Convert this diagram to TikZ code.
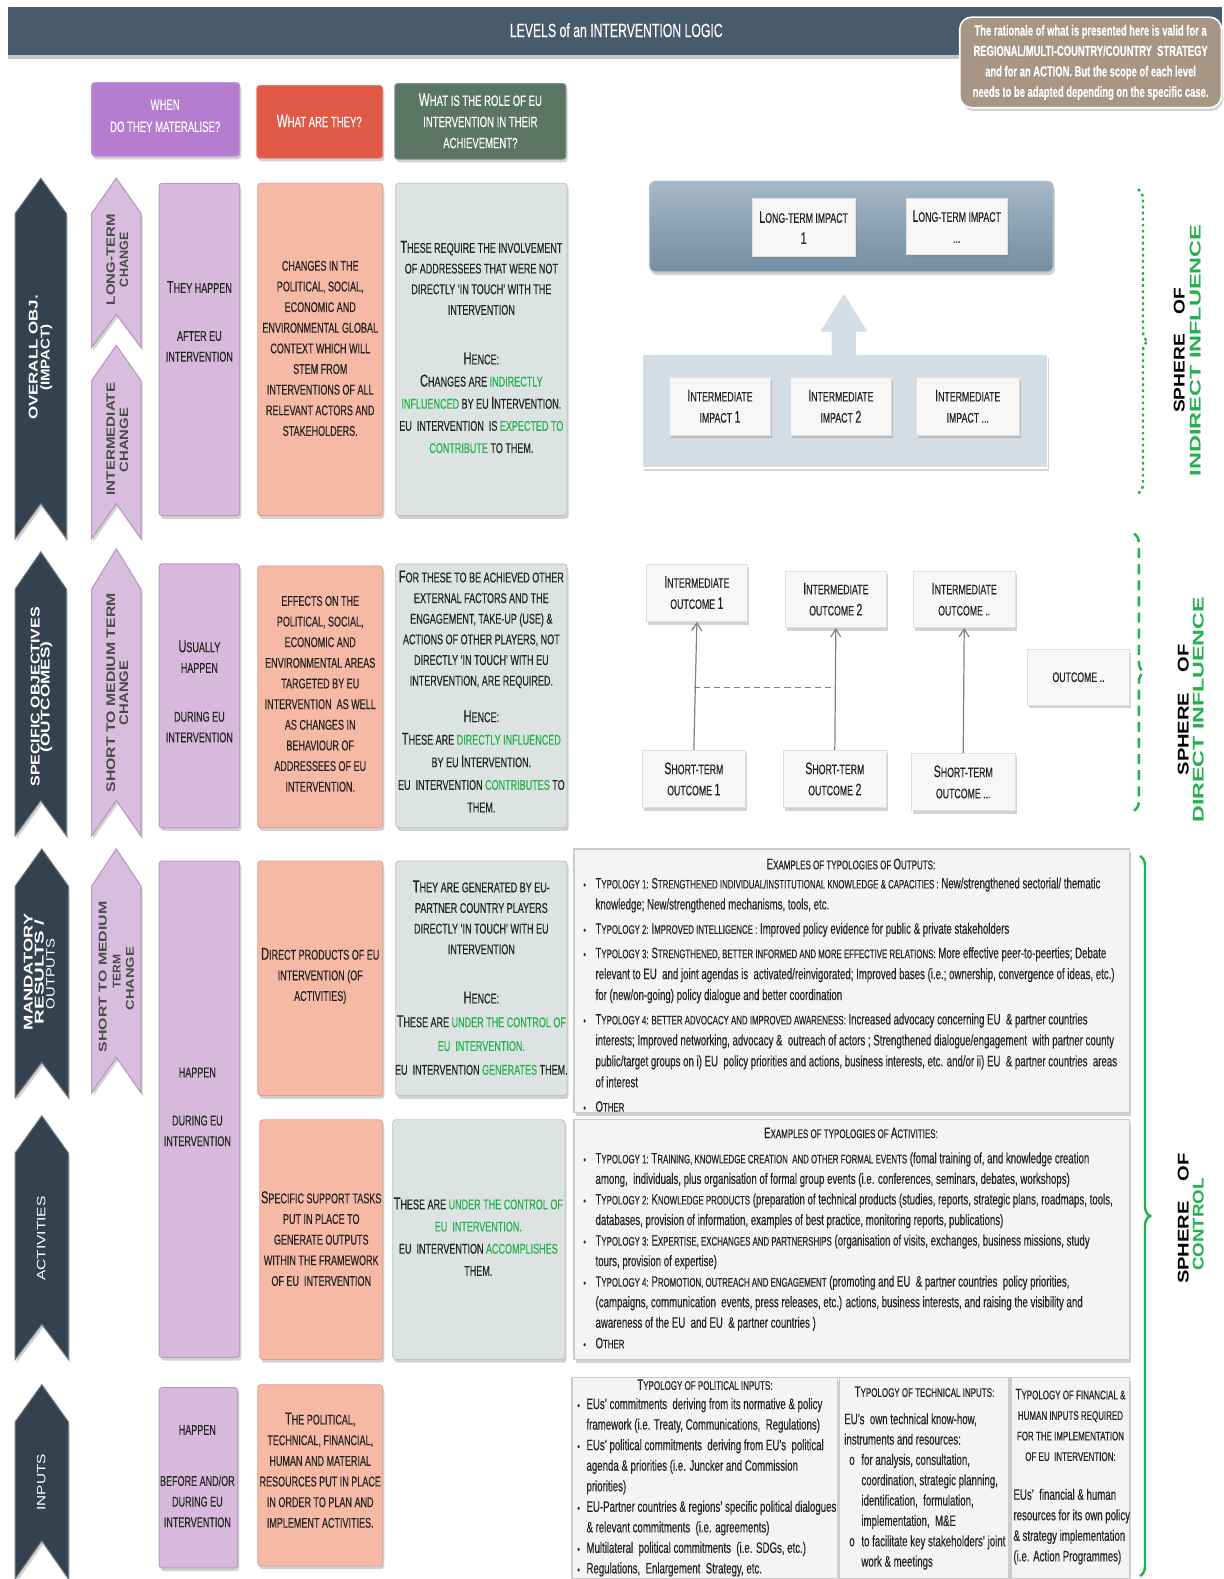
\documentclass[tikz,border=0pt]{standalone}
\usepackage{fontspec}
\usepackage{graphicx}
\setmainfont{Liberation Sans}[FakeStretch=0.64, FakeBold=0.25]
\newfontfamily\labfont{Liberation Sans}
\usetikzlibrary{shadows,arrows.meta,decorations.pathreplacing}

\definecolor{barc}{HTML}{475B6B}
\definecolor{notec}{HTML}{A69683}
\definecolor{hpur}{HTML}{B57CCF}
\definecolor{hred}{HTML}{E05946}
\definecolor{hgrn}{HTML}{5B7565}
\definecolor{chev}{HTML}{33424E}
\definecolor{lil}{HTML}{D8BDDE}
\definecolor{lile}{HTML}{B99CC1}
\definecolor{lilbox}{HTML}{D7B9DC}
\definecolor{salm}{HTML}{F6B9A5}
\definecolor{salmd}{HTML}{DDA08C}
\definecolor{gbox}{HTML}{DCE3E2}
\definecolor{gboxd}{HTML}{B9C2C1}
\definecolor{grn}{HTML}{22B14C}
\definecolor{steel}{HTML}{7E9AAF}
\definecolor{lcont}{HTML}{D3DDE3}
\definecolor{txtc}{HTML}{222222}
\definecolor{panel}{HTML}{F4F4F4}
\definecolor{wfill}{HTML}{F7F7F7}
\definecolor{conc}{HTML}{8C7E79}
\definecolor{lbltxt}{HTML}{4A4A4A}

\newcommand\Ic[1]{\scalebox{1.22}{#1}}
\newcommand\Sm[1]{{\fontsize{6.1}{10.3}\selectfont #1}}
\newcommand\G[1]{\textcolor{grn}{#1}}
\newcommand\lbl[3]{\resizebox{#1pt}{\height}{\fontsize{#2}{#2}\selectfont\labfont\bfseries #3}}
\newcommand\lbln[3]{\resizebox{#1pt}{\height}{\fontsize{#2}{#2}\selectfont\labfont #3}}
\newcommand\bul{\makebox[7.5pt][l]{\hspace{1.5pt}\scalebox{0.7}{\textbullet}}}
\newcommand\cont{\hspace*{7.5pt}}
\newcommand\bulp{\makebox[4.5pt][l]{\scalebox{0.7}{\textbullet}}}
\newcommand\contp{\hspace*{4.5pt}}
\newcommand\bulo{\makebox[8.5pt][l]{\hspace{2.5pt}o}}
\newcommand\conto{\hspace*{8.5pt}}
\newcommand\bx[7]{\node[#6, minimum width={(#4-(#2))*0.5pt}, minimum height={(#5-(#3))*0.5pt}] (#1) at ({(#2+#4)/2},{(#3+#5)/2}) {#7};}
\newcommand\chevr[7]{\draw[#7] (#1,#4) -- ({(#1+#2)/2},#3) -- (#2,#4) -- (#2,#5) -- ({(#1+#2)/2},#6) -- (#1,#5) -- cycle;}

\tikzset{
  shd/.style={drop shadow={opacity=0.35, shadow xshift=0.8pt, shadow yshift=-1.6pt}},
  colbox/.style={inner sep=0pt, rounded corners=1.5pt, shd},
  hdr/.style={colbox, line width=0.5pt},
  lilbx/.style={colbox, fill=lilbox, draw=lile, line width=0.5pt},
  salbx/.style={colbox, fill=salm, draw=salmd, line width=0.4pt},
  grbx/.style={colbox, fill=gbox, draw=gboxd, line width=0.4pt},
  wbx/.style={inner sep=0pt, fill=wfill, draw=gray!25, line width=0.4pt, shd, align=center, text=txtc, font=\fontsize{6.8}{10.5}\selectfont},
  pnl/.style={inner sep=0pt, fill=panel, draw=gray!40, line width=0.6pt, shd},
  txt/.style={align=center, inner sep=0pt, text=txtc, font=\fontsize{7}{10.25}\selectfont},
  htxt/.style={align=center, inner sep=0pt, text=white, font=\fontsize{7.4}{10.5}\selectfont},
  ptitle/.style={align=center, inner sep=0pt, text=txtc, font=\fontsize{6.2}{10.2}\selectfont},
  plist/.style={align=left, inner sep=0pt, text=txtc, anchor=north west},
  chevst/.style={fill=chev, draw=chev!70!white, line width=0.5pt, shd},
  lilst/.style={fill=lil, draw=lile, line width=0.6pt, shd},
  rlab/.style={rotate=90, inner sep=0pt},
  conn/.style={draw=conc, line width=0.6pt, -{Straight Barb[length=4pt,width=5pt]}},
  brc/.style={decorate, decoration={brace, amplitude=5pt}, draw=grn, line width=1.2pt},
}

\begin{document}
\begin{tikzpicture}[x=0.5pt,y=-0.5pt]
\fill[white] (0,0) rectangle (1215,1568);
\useasboundingbox (0,0) rectangle (1215,1568);

% header
\bx{bar}{8}{7}{1213}{55}{inner sep=0pt, fill=barc, drop shadow={opacity=0.45, shadow xshift=0pt, shadow yshift=-2pt}}{}
\node[text=white, font=\fontsize{9.5}{11}\selectfont] (title) at (612,30) {LEVELS of an INTERVENTION LOGIC};
\bx{note}{953}{17}{1213}{107}{inner sep=0pt, fill=notec, draw=white, line width=0.8pt, rounded corners=6pt, shd}{}
\node[text=white, align=center, inner sep=0pt, font=\fontsize{7.3}{10.15}\selectfont\bfseries] (notet) at (1083,62) {The rationale of what is presented here is valid for a\\REGIONAL/MULTI-COUNTRY/COUNTRY\ \ STRATEGY\\and for an ACTION. But the scope of each level\\needs to be adapted depending on the specific case.};

\bx{hw}{91}{82}{238}{155}{hdr, fill=hpur, draw=hpur!80!white}{}
\node[htxt, font=\fontsize{7.4}{11}\selectfont] (hwt) at (164,115) {WHEN\\DO THEY MATERALISE?};
\bx{hr}{255}{85}{380}{157}{hdr, fill=hred, draw=hred!80!white}{}
\node[htxt] (hrt) at (317,120) {\Ic{W}HAT ARE THEY?};
\bx{hg}{392}{83}{562}{158}{hdr, fill=hgrn, draw=hgrn!80!white}{}
\node[htxt] (hgt) at (477,120) {\Ic{W}HAT IS THE ROLE OF EU\\INTERVENTION IN THEIR\\ACHIEVEMENT?};

% chevrons
\chevr{15}{66}{177}{212}{535}{500}{chevst}
\chevr{91}{140}{177}{212}{345}{312}{lilst}
\chevr{91}{140}{343}{378}{535}{500}{lilst}
\chevr{15}{66}{548}{585}{830}{795}{chevst}
\chevr{91}{140}{545}{585}{830}{795}{lilst}
\chevr{15}{68}{843}{880}{1090}{1055}{chevst}
\chevr{91}{140}{843}{880}{1085}{1050}{lilst}
\chevr{15}{68}{1108}{1145}{1350}{1315}{chevst}
\chevr{15}{68}{1375}{1412}{1568}{1530}{chevst}

\node[rlab, text=white] (c1a) at (33,355) {\lbl{62}{6.3}{OVERALL OBJ.}};
\node[rlab, text=white] (c1b) at (46,355) {\lbl{33}{6.3}{(IMPACT)}};
\node[rlab, text=white] (c2a) at (35,692) {\lbl{89}{6.3}{SPECIFIC OBJECTIVES}};
\node[rlab, text=white] (c2b) at (46,692) {\lbl{55}{6.3}{(OUTCOMES)}};
\node[rlab, text=white] (c3a) at (28,965) {\lbl{58}{6.3}{MANDATORY}};
\node[rlab, text=white] (c3b) at (39,965) {\lbl{52}{6.3}{RESULTS /}};
\node[rlab, text=white] (c3c) at (50,967) {\lbln{35}{6}{OUTPUTS}};
\node[rlab, text=white] (c4a) at (41,1230) {\lbln{42}{6}{ACTIVITIES}};
\node[rlab, text=white] (c5a) at (41,1472) {\lbln{28}{6}{INPUTS}};

\node[rlab, text=lbltxt] (l1a) at (110,258) {\lbl{45}{6}{LONG-TERM}};
\node[rlab, text=lbltxt] (l1b) at (123,258) {\lbl{27}{6}{CHANGE}};
\node[rlab, text=lbltxt] (l2a) at (110,436) {\lbl{56}{6}{INTERMEDIATE}};
\node[rlab, text=lbltxt] (l2b) at (123,437) {\lbl{32}{6}{CHANGE}};
\node[rlab, text=lbltxt] (l3a) at (110,688) {\lbl{99}{6.2}{SHORT TO MEDIUM TERM}};
\node[rlab, text=lbltxt] (l3b) at (123,688) {\lbl{32}{6.2}{CHANGE}};
\node[rlab, text=lbltxt] (l4a) at (102,970) {\lbl{75}{5.6}{SHORT TO MEDIUM}};
\node[rlab, text=lbltxt] (l4b) at (116,965) {\lbl{17}{5.6}{TERM}};
\node[rlab, text=lbltxt] (l4c) at (129,972) {\lbl{31.5}{5.6}{CHANGE}};

% row 1 boxes
\bx{w1}{158}{182}{238}{512}{lilbx}{}
\node[txt] (w1a) at (198,285) {\Ic{T}HEY HAPPEN};
\node[txt] (w1b) at (198,344) {AFTER EU\\INTERVENTION};
\bx{s1}{256}{182}{380}{512}{salbx}{}
\node[txt] (s1t) at (318,346) {CHANGES IN THE\\POLITICAL, SOCIAL,\\ECONOMIC AND\\ENVIRONMENTAL GLOBAL\\CONTEXT WHICH WILL\\STEM FROM\\INTERVENTIONS OF ALL\\RELEVANT ACTORS AND\\STAKEHOLDERS.};
\bx{g1}{393}{182}{563}{512}{grbx}{}
\node[txt] (g1a) at (478,276) {\Ic{T}HESE REQUIRE THE INVOLVEMENT\\OF ADDRESSEES THAT WERE NOT\\DIRECTLY ‘IN TOUCH’ WITH THE\\INTERVENTION};
\node[txt, font=\fontsize{7}{11}\selectfont] (g1b) at (478,400) {\Ic{H}ENCE:\\\Ic{C}HANGES ARE \G{INDIRECTLY}\\\G{INFLUENCED} BY EU \Ic{I}NTERVENTION.\\EU\ \ INTERVENTION\ \ IS \G{EXPECTED TO}\\\G{CONTRIBUTE} TO THEM.};

% row 1 right
\bx{ltbox}{645}{180}{1046}{270}{inner sep=0pt, rounded corners=3pt, top color=steel!70!white, bottom color=steel!92!black, draw=steel!60!white, line width=0.6pt, shd}{}
\bx{lt1}{747}{197}{849}{255}{wbx}{\Ic{L}ONG-TERM IMPACT\\\Ic{1}}
\bx{lt2}{900}{197}{1000}{253}{wbx}{\Ic{L}ONG-TERM IMPACT\\...}
\bx{icont}{638}{352}{1040}{465}{inner sep=0pt, fill=lcont, draw=white, line width=0.8pt, shd}{}
\draw[fill=lcont, draw=white, line width=0.8pt] (825,353) -- (825,330) -- (813,330) -- (838,290) -- (863,330) -- (851,330) -- (851,353);
\bx{ii1}{665}{375}{765}{432}{wbx}{\Ic{I}NTERMEDIATE\\IMPACT \Ic{1}}
\bx{ii2}{785}{375}{885}{432}{wbx}{\Ic{I}NTERMEDIATE\\IMPACT \Ic{2}}
\bx{ii3}{910}{375}{1012}{432}{wbx}{\Ic{I}NTERMEDIATE\\IMPACT ...}

\draw[brc, dash pattern=on 1.3pt off 1.7pt] (1130,188) -- (1130,490);
\node[rlab] (sp1a) at (1171,348) {\lbl{62}{7.7}{SPHERE\quad OF}};
\node[rlab, text=grn] (sp1b) at (1187,348) {\lbl{125}{7.7}{INDIRECT INFLUENCE}};

% row 2 boxes
\bx{w2}{158}{560}{238}{822}{lilbx}{}
\node[txt] (w2a) at (198,652) {\Ic{U}SUALLY\\HAPPEN};
\node[txt] (w2b) at (198,722) {DURING EU\\INTERVENTION};
\bx{s2}{256}{562}{380}{822}{salbx}{}
\node[txt] (s2t) at (318,689) {EFFECTS ON THE\\POLITICAL, SOCIAL,\\ECONOMIC AND\\ENVIRONMENTAL AREAS\\TARGETED BY EU\\INTERVENTION\ \ AS WELL\\AS CHANGES IN\\BEHAVIOUR OF\\ADDRESSEES OF EU\\INTERVENTION.};
\bx{g2}{393}{560}{563}{822}{grbx}{}
\node[txt] (g2a) at (478,625) {\Ic{F}OR THESE TO BE ACHIEVED OTHER\\EXTERNAL FACTORS AND THE\\ENGAGEMENT, TAKE-UP (USE) \&\\ACTIONS OF OTHER PLAYERS, NOT\\DIRECTLY ‘IN TOUCH’ WITH EU\\INTERVENTION, ARE REQUIRED.};
\node[txt, font=\fontsize{7}{11.2}\selectfont] (g2b) at (478,756) {\Ic{H}ENCE:\\\Ic{T}HESE ARE \G{DIRECTLY INFLUENCED}\\BY EU \Ic{I}NTERVENTION.\\EU\ \ INTERVENTION \G{CONTRIBUTES} TO\\THEM.};

% row 2 right
\bx{io1}{642}{560}{742}{617}{wbx}{\Ic{I}NTERMEDIATE\\OUTCOME \Ic{1}}
\bx{io2}{780}{567}{880}{623}{wbx}{\Ic{I}NTERMEDIATE\\OUTCOME \Ic{2}}
\bx{io3}{907}{567}{1008}{623}{wbx}{\Ic{I}NTERMEDIATE\\OUTCOME ..}
\bx{oc}{1020}{645}{1122}{700}{wbx}{OUTCOME ..}
\bx{st1}{638}{745}{740}{802}{wbx}{\Ic{S}HORT-TERM\\OUTCOME \Ic{1}}
\bx{st2}{778}{745}{880}{802}{wbx}{\Ic{S}HORT-TERM\\OUTCOME \Ic{2}}
\bx{st3}{905}{748}{1008}{805}{wbx}{\Ic{S}HORT-TERM\\OUTCOME ...}
\draw[conn] (st1.north) -- (io1.south);
\draw[conn] (st2.north) -- (io2.south);
\draw[conn] (st3.north) -- (io3.south);
\coordinate (d1) at (689,683);
\coordinate (d2) at (830,683);
\draw[draw=conc, line width=0.6pt, dash pattern=on 3pt off 2pt] (d1) -- (d2);

\draw[brc, dash pattern=on 5pt off 3pt] (1126,530) -- (1126,805);
\node[rlab] (sp2a) at (1175,705) {\lbl{65}{7.7}{SPHERE\quad OF}};
\node[rlab, text=grn] (sp2b) at (1190,705) {\lbl{112}{7.7}{DIRECT INFLUENCE}};

% row 3
\bx{w3}{158}{855}{238}{1348}{lilbx}{}
\node[txt] (w3a) at (196,1065) {HAPPEN};
\node[txt] (w3b) at (196,1123) {DURING EU\\INTERVENTION};
\bx{s3}{256}{855}{380}{1088}{salbx}{}
\node[txt] (s3t) at (318,969) {\Ic{D}IRECT PRODUCTS OF EU\\INTERVENTION (OF\\ACTIVITIES)};
\bx{g3}{393}{855}{563}{1088}{grbx}{}
\node[txt] (g3a) at (478,911) {\Ic{T}HEY ARE GENERATED BY EU-\\PARTNER COUNTRY PLAYERS\\DIRECTLY ‘IN TOUCH’ WITH EU\\INTERVENTION};
\node[txt, font=\fontsize{7}{11.8}\selectfont] (g3b) at (478,1026) {\Ic{H}ENCE:\\\Ic{T}HESE ARE \G{UNDER THE CONTROL OF}\\\G{EU\ \ INTERVENTION.}\\EU\ \ INTERVENTION \G{GENERATES} THEM.};

\bx{pout}{570}{843}{1122}{1105}{pnl}{}
\node[ptitle] (pout-t) at (845,858) {\Ic{E}XAMPLES OF TYPOLOGIES OF \Ic{O}UTPUTS:};
\node[plist, font=\fontsize{7.5}{10.4}\selectfont] (pout-l) at (576,871) {%
\bul\Sm{\Ic{T}YPOLOGY 1: \Ic{S}TRENGTHENED INDIVIDUAL/INSTITUTIONAL KNOWLEDGE \& CAPACITIES :} New/strengthened sectorial/ thematic\\
\cont knowledge; New/strengthened mechanisms, tools, etc.\\[1.7pt]
\bul\Sm{\Ic{T}YPOLOGY 2: \Ic{I}MPROVED INTELLIGENCE :} Improved policy evidence for public \& private stakeholders\\[1.7pt]
\bul\Sm{\Ic{T}YPOLOGY 3: \Ic{S}TRENGTHENED, BETTER INFORMED AND MORE EFFECTIVE RELATIONS:} More effective peer-to-peerties; Debate\\
\cont relevant to EU\ \ and joint agendas is\ \ activated/reinvigorated; Improved bases (i.e.; ownership, convergence of ideas, etc.)\\
\cont for (new/on-going) policy dialogue and better coordination\\[1.7pt]
\bul\Sm{\Ic{T}YPOLOGY 4: BETTER ADVOCACY AND IMPROVED AWARENESS:} Increased advocacy concerning EU\ \ \& partner countries\\
\cont interests; Improved networking, advocacy \&\ \ outreach of actors ; Strengthened dialogue/engagement\ \ with partner county\\
\cont public/target groups on i) EU\ \ policy priorities and actions, business interests, etc. and/or ii) EU\ \ \& partner countries\ \ areas\\
\cont of interest\\[1.7pt]
\bul\Sm{\Ic{O}THER}};

% row 4
\bx{s4}{258}{1112}{380}{1350}{salbx}{}
\node[txt] (s4t) at (319,1230) {\Ic{S}PECIFIC SUPPORT TASKS\\PUT IN PLACE TO\\GENERATE OUTPUTS\\WITHIN THE FRAMEWORK\\OF EU\ \ INTERVENTION};
\bx{g4}{390}{1112}{561}{1350}{grbx}{}
\node[txt, font=\fontsize{7}{11}\selectfont] (g4t) at (475,1228) {\Ic{T}HESE ARE \G{UNDER THE CONTROL OF}\\\G{EU\ \ INTERVENTION.}\\EU\ \ INTERVENTION \G{ACCOMPLISHES}\\THEM.};

\bx{pact}{570}{1112}{1122}{1350}{pnl}{}
\node[ptitle] (pact-t) at (845,1125) {\Ic{E}XAMPLES OF TYPOLOGIES OF \Ic{A}CTIVITIES:};
\node[plist, font=\fontsize{7.5}{10.2}\selectfont] (pact-l) at (576,1144) {%
\bul\Sm{\Ic{T}YPOLOGY 1: \Ic{T}RAINING, KNOWLEDGE CREATION\ \ AND OTHER FORMAL EVENTS} (fomal training of, and knowledge creation\\
\cont among,\ \ individuals, plus organisation of formal group events (i.e. conferences, seminars, debates, workshops)\\
\bul\Sm{\Ic{T}YPOLOGY 2: \Ic{K}NOWLEDGE PRODUCTS} (preparation of technical products (studies, reports, strategic plans, roadmaps, tools,\\
\cont databases, provision of information, examples of best practice, monitoring reports, publications)\\
\bul\Sm{\Ic{T}YPOLOGY 3: \Ic{E}XPERTISE, EXCHANGES AND PARTNERSHIPS} (organisation of visits, exchanges, business missions, study\\
\cont tours, provision of expertise)\\
\bul\Sm{\Ic{T}YPOLOGY 4: \Ic{P}ROMOTION, OUTREACH AND ENGAGEMENT} (promoting and EU\ \ \& partner countries\ \ policy priorities,\\
\cont (campaigns, communication\ \ events, press releases, etc.) actions, business interests, and raising the visibility and\\
\cont awareness of the EU\ \ and EU\ \ \& partner countries )\\
\bul\Sm{\Ic{O}THER}};

% row 5
\bx{w5}{158}{1378}{236}{1557}{lilbx}{}
\node[txt] (w5a) at (196,1420) {HAPPEN};
\node[txt] (w5b) at (196,1491) {BEFORE AND/OR\\DURING EU\\INTERVENTION};
\bx{s5}{256}{1375}{380}{1555}{salbx}{}
\node[txt] (s5t) at (318,1460) {\Ic{T}HE POLITICAL,\\TECHNICAL, FINANCIAL,\\HUMAN AND MATERIAL\\RESOURCES PUT IN PLACE\\IN ORDER TO PLAN AND\\IMPLEMENT ACTIVITIES.};

\bx{ppol}{568}{1368}{832}{1568}{pnl}{}
\node[ptitle] (ppol-t) at (700,1375) {\Ic{T}YPOLOGY OF POLITICAL INPUTS:};
\node[plist, font=\fontsize{7.5}{10.2}\selectfont] (ppol-l) at (573,1388) {%
\bulp EUs' commitments\ \ deriving from its normative \& policy\\
\contp framework (i.e. Treaty, Communications,\ \ Regulations)\\
\bulp EUs' political commitments\ \ deriving from EU's\ \ political\\
\contp agenda \& priorities (i.e. Juncker and Commission\\
\contp priorities)\\
\bulp EU-Partner countries \& regions' specific political dialogues\\
\contp \& relevant commitments\ \ (i.e. agreements)\\
\bulp Multilateral\ \ political commitments\ \ (i.e. SDGs, etc.)\\
\bulp Regulations,\ \ Enlargement\ \ Strategy, etc.};

\bx{ptec}{834}{1368}{1002}{1568}{pnl}{}
\node[ptitle] (ptec-t) at (918,1382) {\Ic{T}YPOLOGY OF TECHNICAL INPUTS:};
\node[plist, font=\fontsize{7.5}{10.1}\selectfont] (ptec-l) at (838,1403) {%
EU's\ \ own technical know-how,\\
instruments and resources:\\
\bulo for analysis, consultation,\\
\conto coordination, strategic planning,\\
\conto identification,\ \ formulation,\\
\conto implementation,\ \ M\&E\\
\bulo to facilitate key stakeholders' joint\\
\conto work \& meetings};

\bx{pfin}{1004}{1368}{1122}{1568}{pnl}{}
\node[ptitle] (pfin-t) at (1063,1415) {\Ic{T}YPOLOGY OF FINANCIAL \&\\HUMAN INPUTS REQUIRED\\FOR THE IMPLEMENTATION\\OF EU\ \ INTERVENTION:};
\node[plist, font=\fontsize{7.5}{10.2}\selectfont] (pfin-l) at (1006,1478) {%
EUs'\ \ financial \& human\\
resources for its own policy\\
\& strategy implementation\\
(i.e. Action Programmes)};

\draw[brc] (1132,850) -- (1132,1565);
\node[rlab] (sp3a) at (1175,1210) {\lbl{65}{7.7}{SPHERE\quad OF}};
\node[rlab, text=grn] (sp3b) at (1190,1216) {\lbl{46}{7.7}{CONTROL}};
\end{tikzpicture}
\end{document}
